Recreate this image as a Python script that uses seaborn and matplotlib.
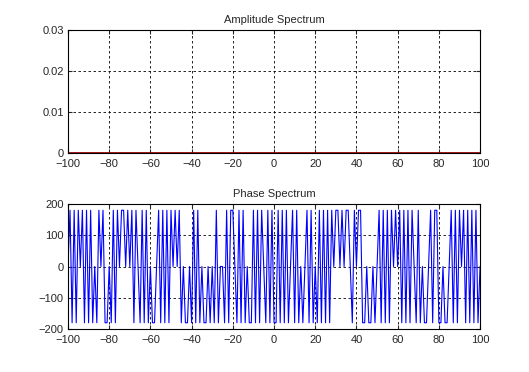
import numpy as np
import pandas as pd
import seaborn as sns
import matplotlib
matplotlib.use("Agg")
import matplotlib.pyplot as plt

# frequency axis, -100 .. 100
freq = list(range(-100, 101))

# amplitude is flat at zero over the whole range
amplitude = [0.0] * len(freq)

# phase in degrees (only +180 / 0 / -180 show up)
phase = [
    0,                                                        # -100
    180, -180, 180, -180, 180, 0, 180, -180, 180, -180,       # -99 .. -90
    180, -180, 0, -180, 180, 0, 180, -180, -180, 0,           # -89 .. -80
    -180, 180, -180, 180, 0, 180, 180, 0, 180, 0,             # -79 .. -70
    180, -180, 180, 0, -180, 180, -180, 180, -180, 0,         # -69 .. -60
    -180, -180, 0, 180, -180, 180, -180, 180, -180, 180,      # -59 .. -50
    0, 180, 0, 180, -180, 0, -180, -180, 0, -180,             # -49 .. -40
    180, -180, 180, -180, 0, -180, -180, 0, -180, 0,          # -39 .. -30
    -180, 180, -180, 0, 0, -180, 180, -180, 180, 180,         # -29 .. -20
    0, -180, 180, -180, 180, -180, 0, -180, -180, 180,        # -19 .. -10
    -180, 180, -180, 180, 0, -180, 180, -180, 180,            # -9 .. -1
    -180,                                                     # 0
    -180, 180, -180, 180, -180, 180, -180, 0, 180, -180,      # 1 .. 10
    180, -180, 0, -180, 0, 180, -180, 180, -180, 0,           # 11 .. 20
    -180, 180, -180, 180, -180, 180, -180, 180, 0, 180,       # 21 .. 30
    180, 0, 180, 0, 180, 180, 0, -180, 180, 0,                # 31 .. 40
    180, 180, -180, -180, 0, -180, -180, 0, -180, 0,          # 41 .. 50
    180, -180, 180, -180, 180, -180, 180, 0, 180, 0,          # 51 .. 60
    180, -180, 180, -180, 180, -180, 180, 0, -180, 180,       # 61 .. 70
    -180, 0, -180, -180, 0, 180, -180, 180, 180, -180,        # 71 .. 80
    -180, 0, -180, -180, 0, 180, -180, 180, -180, 180,        # 81 .. 90
    0, 180, -180, 180, -180, 180, -180, 180, -180, 0,         # 91 .. 100
]

df = pd.DataFrame({"freq": freq, "amplitude": amplitude, "phase": phase})

sns.set_style("white")
plt.rcParams["font.family"] = ["Liberation Sans", "DejaVu Sans"]

fig = plt.figure(figsize=(5.29, 3.72), dpi=100)
ax1 = fig.add_axes([0.1285, 0.5887, 0.779, 0.3306])
ax2 = fig.add_axes([0.1285, 0.1156, 0.779, 0.336])

sns.lineplot(data=df, x="freq", y="amplitude", ax=ax1, color="#a00000",
             linewidth=2, estimator=None)
sns.lineplot(data=df, x="freq", y="phase", ax=ax2, color="#0000ff",
             linewidth=0.8, estimator=None)

ax1.set_ylim(0, 0.03)
ax1.set_yticks([0, 0.01, 0.02, 0.03])
ax1.set_yticklabels(["0", "0.01", "0.02", "0.03"])
ax1.set_title("Amplitude Spectrum", fontsize=8, pad=5)

ax2.set_ylim(-200, 200)
ax2.set_yticks([-200, -100, 0, 100, 200])
ax2.set_title("Phase Spectrum", fontsize=8, pad=5)

for ax in (ax1, ax2):
    ax.set_xlim(-100, 100)
    ax.set_xticks(range(-100, 101, 20))
    ax.set_xlabel("")
    ax.set_ylabel("")
    ax.grid(True, color="black", linestyle=(0, (3, 3)), linewidth=0.6)
    ax.tick_params(direction="in", length=3, labelsize=8,
                   top=True, right=True, bottom=True, left=True)
    ax.tick_params(axis="x", pad=4)
    ax.tick_params(axis="y", pad=3)
    for s in ax.spines.values():
        s.set_color("black")
        s.set_linewidth(0.8)

fig.savefig("out.png", dpi=100)
